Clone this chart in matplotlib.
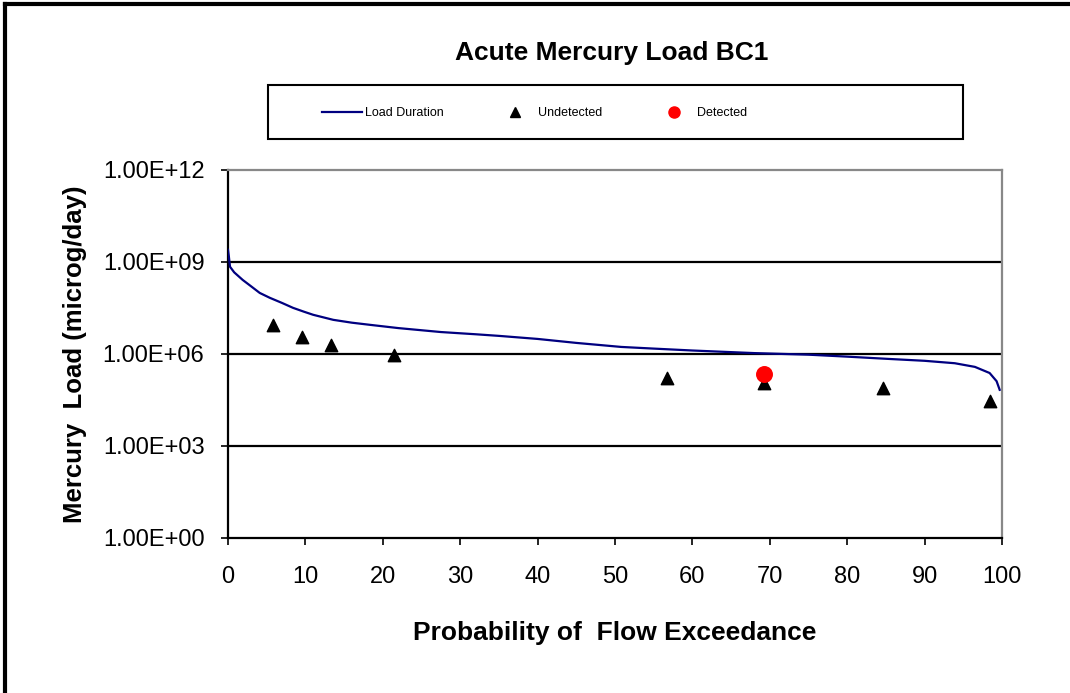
import matplotlib.pyplot as plt
from matplotlib.lines import Line2D
from matplotlib.patches import Rectangle
import numpy as np

plt.rcParams['font.family'] = ['Liberation Sans', 'DejaVu Sans']

# load duration curve
curve_x = [0.0, 0.1, 0.26, 0.8, 1.9, 3.0, 4.1, 5.4, 7.0, 8.4, 9.8, 11.0, 13.6, 16.0,
           18.4, 22.0, 27.5, 32.0, 35.0, 40.0, 45.0, 50.8, 55.0, 60.0, 68.0, 75.0,
           80.0, 85.4, 90.0, 93.9, 96.5, 98.4, 99.3, 99.7]
curve_y = [2.5e9, 1.6e9, 7.0e8, 4.6e8, 2.6e8, 1.6e8, 9.8e7, 6.8e7, 4.6e7, 3.2e7,
           2.4e7, 1.9e7, 1.3e7, 1.05e7, 8.9e6, 7.0e6, 5.2e6, 4.4e6, 3.9e6, 3.1e6,
           2.3e6, 1.7e6, 1.5e6, 1.3e6, 1.07e6, 9.5e5, 8.2e5, 6.9e5, 6.0e5, 5.0e5,
           3.8e5, 2.4e5, 1.3e5, 6.8e4]

undet_x = [5.8, 9.6, 13.3, 21.5, 56.7, 69.2, 84.6, 98.4]
undet_y = [8.5e6, 3.6e6, 1.9e6, 9.0e5, 1.7e5, 1.15e5, 8.0e4, 3.0e4]

det_x = [69.2]
det_y = [2.2e5]

ytick_vals = [1e0, 1e3, 1e6, 1e9, 1e12]
ytick_labels = ['1.00E+00', '1.00E+03', '1.00E+06', '1.00E+09', '1.00E+12']

W, H = 1070, 693
fig = plt.figure(figsize=(W / 100, H / 100), dpi=100)
ax = fig.add_axes([228 / W, 1 - 538 / H, 774 / W, 368 / H])

ax.plot(curve_x, curve_y, color='#000080', lw=1.6, zorder=3)
ax.scatter(undet_x, undet_y, marker='^', s=80, color='black', zorder=4)
ax.scatter(det_x, det_y, marker='o', s=125, color='red', zorder=5)

ax.set_yscale('log')
ax.set_ylim(1, 1e12)
ax.set_xlim(0, 100)
ax.set_yticks(ytick_vals)
ax.set_yticklabels(ytick_labels)
ax.yaxis.set_minor_locator(plt.NullLocator())
ax.set_xticks(np.arange(0, 101, 10))
ax.tick_params(axis='both', direction='out', length=5, width=1.2, labelsize=17, colors='black')
ax.tick_params(axis='x', pad=15)
ax.tick_params(axis='y', pad=12)

for v in ytick_vals[1:-1]:
    ax.axhline(v, color='black', lw=1.6, zorder=1)

ax.spines['left'].set_linewidth(1.6)
ax.spines['bottom'].set_linewidth(1.6)
for s in ['top', 'right']:
    ax.spines[s].set_color('#888888')
    ax.spines[s].set_linewidth(1.6)

ax.set_xlabel('Probability of  Flow Exceedance', fontsize=19, fontweight='bold', labelpad=24)
ax.set_ylabel('Mercury  Load (microg/day)', fontsize=18.5, fontweight='bold', labelpad=11)

fig.text(612 / W, 1 - 53 / H, 'Acute Mercury Load BC1', ha='center', va='center',
         fontsize=19, fontweight='bold')

# legend
handles = [Line2D([], [], color='#000080', lw=1.6),
           Line2D([], [], marker='^', ls='', color='black', markersize=7),
           Line2D([], [], marker='o', ls='', color='red', markersize=8)]
leg = fig.legend(handles, ['Load Duration', 'Undetected', 'Detected'], ncol=3,
                 loc='center left', bbox_to_anchor=(322 / W, 1 - 113 / H),
                 fontsize=9, frameon=False, borderpad=0, borderaxespad=0,
                 handlelength=3.2, columnspacing=4.1, handletextpad=0.25)
fig.add_artist(Rectangle((268 / W, 1 - 139 / H), (963 - 268) / W, 54 / H,
                         fill=False, edgecolor='black', lw=1.5, transform=fig.transFigure))

# outer border (left and top only visible)
fig.add_artist(Line2D([5 / W, 5 / W], [0, 1 - 4 / H], color='black', lw=3,
                      transform=fig.transFigure))
fig.add_artist(Line2D([5 / W, 1], [1 - 4 / H, 1 - 4 / H], color='black', lw=3,
                      transform=fig.transFigure))

fig.savefig('out.png', dpi=100)
